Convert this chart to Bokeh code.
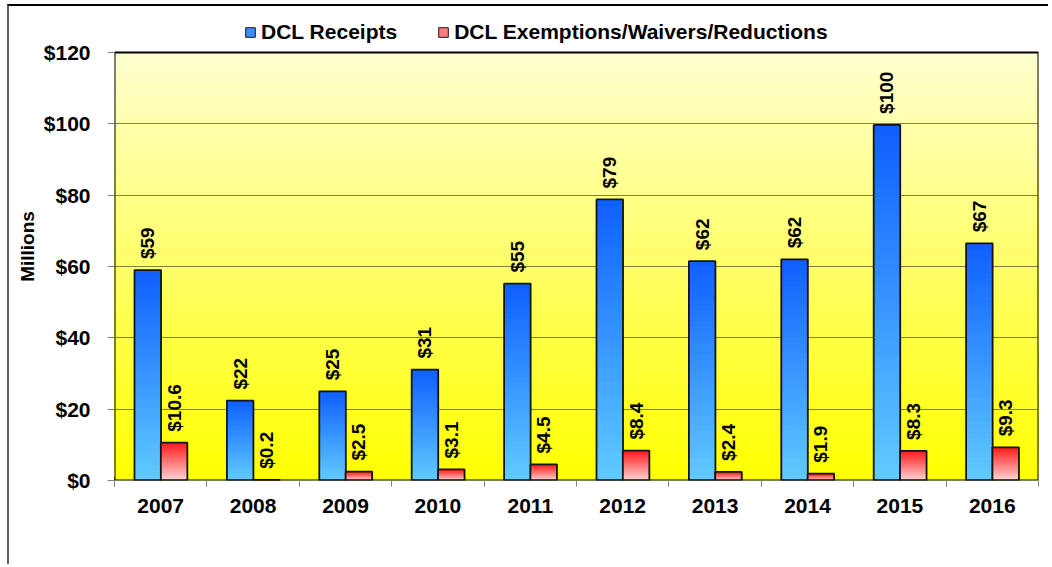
import numpy as np
from bokeh.plotting import figure
from bokeh.models import Range1d, FixedTicker, NumeralTickFormatter, Legend, LegendItem
from bokeh.core.properties import value
from bokeh.embed import file_html
from bokeh.resources import INLINE

# ---------------- data ----------------
years = ["2007", "2008", "2009", "2010", "2011", "2012", "2013", "2014", "2015", "2016"]
receipts = [59.0, 22.4, 25.0, 31.1, 55.2, 78.8, 61.5, 62.0, 99.7, 66.5]
exemptions = [10.6, 0.2, 2.5, 3.1, 4.5, 8.4, 2.4, 1.9, 8.3, 9.3]
receipt_labels = ["$59", "$22", "$25", "$31", "$55", "$79", "$62", "$62", "$100", "$67"]
exemption_labels = ["$10.6", "$0.2", "$2.5", "$3.1", "$4.5", "$8.4", "$2.4", "$1.9", "$8.3", "$9.3"]
y_ticks = [0, 20, 40, 60, 80, 100, 120]
series_names = ["DCL Receipts", "DCL Exemptions/Waivers/Reductions"]

FONT = value("Liberation Sans")
N_STRIPS = 40
BAR_W = 0.287

# layout (pixels)
PLOT_H = 428            # height of the value area (0..120)
HEADROOM = 40           # white area above the value area holding the legend
FRAME_H = PLOT_H + HEADROOM


def hex2rgb(h):
    h = h.lstrip("#")
    return tuple(int(h[i:i + 2], 16) for i in (0, 2, 4))


def mix(c0, c1, t):
    a, b = hex2rgb(c0), hex2rgb(c1)
    return "#%02x%02x%02x" % tuple(int(round(a[k] + (b[k] - a[k]) * t)) for k in range(3))


n = len(years)
ymax = y_ticks[-1]

p = figure(x_range=Range1d(0, n), y_range=Range1d(0, ymax * FRAME_H / PLOT_H),
           frame_width=924, frame_height=FRAME_H,
           min_border_left=105, min_border_right=10,
           min_border_top=6, min_border_bottom=84,
           output_backend="svg", toolbar_location=None,
           border_fill_color="white", background_fill_color="white")
p.styles = {"margin-left": "7px", "margin-top": "4px",
            "border-left": "2px solid #606060", "border-top": "2px solid black"}
p.outline_line_color = None

# background gradient (pale yellow at top -> yellow at bottom)
bg_b, bg_c = [], []
for i in range(100):
    bg_b.append(ymax * i / 100)
    bg_c.append(mix("#ffff00", "#ffffd0", i / 99))
p.quad(left=0, right=n, bottom=bg_b, top=ymax, fill_color=bg_c,
       line_color=None, level="image")


def gradient_bar(vals, offset, c_bottom, c_top):
    xs, bots, tops, cols = [], [], [], []
    for i, v in enumerate(vals):
        for k in range(N_STRIPS):
            xs.append(i + 0.5 + offset)
            bots.append(v * k / N_STRIPS)
            tops.append(v)
            cols.append(mix(c_bottom, c_top, k / (N_STRIPS - 1)))
    p.vbar(x=xs, bottom=bots, top=tops, width=BAR_W, fill_color=cols, line_color=None)
    centers = [i + 0.5 + offset for i in range(len(vals))]
    p.vbar(x=centers, bottom=0, top=vals, width=BAR_W, fill_color=None,
           line_color="#141414", line_width=1.8)
    return centers


bx = gradient_bar(receipts, -0.14, "#60caff", "#1060ff")
rx = gradient_bar(exemptions, 0.145, "#ffd2d2", "#ff1c1c")

for xs, vals, labs in ((bx, receipts, receipt_labels), (rx, exemptions, exemption_labels)):
    p.text(x=xs, y=vals, text=labs, angle=np.pi / 2, text_align="left",
           text_baseline="middle", y_offset=-11, text_font=FONT,
           text_font_style="bold", text_font_size="19px", text_color="black")

# plot-area border (value area only)
p.quad(left=0, right=n, bottom=0, top=ymax, fill_color=None,
       line_color="black", line_width=2)

# axes
p.yaxis.ticker = FixedTicker(ticks=y_ticks)
p.yaxis.formatter = NumeralTickFormatter(format="$0")
p.yaxis.axis_line_color = None
p.yaxis.major_tick_out = 7
p.yaxis.major_tick_in = 0
p.yaxis.major_tick_line_color = "#808080"
p.yaxis.minor_tick_line_color = None
p.yaxis.major_label_standoff = 17
p.yaxis.axis_label = "Millions"
p.yaxis.axis_label_standoff = 3
p.yaxis.axis_label_text_font = "Liberation Sans"
p.yaxis.axis_label_text_font_size = "19px"
p.yaxis.axis_label_text_font_style = "bold"
p.yaxis.axis_label_text_color = "black"

p.xaxis.ticker = FixedTicker(ticks=[i + 0.5 for i in range(n)],
                             minor_ticks=list(range(n + 1)))
p.xaxis.major_label_overrides = {i + 0.5: y for i, y in enumerate(years)}
p.xaxis.axis_line_color = None
p.xaxis.major_tick_line_color = None
p.xaxis.major_tick_out = 0
p.xaxis.major_tick_in = 0
p.xaxis.minor_tick_line_color = "#808080"
p.xaxis.minor_tick_out = 6
p.xaxis.minor_tick_in = 0
p.xaxis.major_label_standoff = 12

for ax in (p.xaxis, p.yaxis):
    ax.major_label_text_font = "Liberation Sans"
    ax.major_label_text_font_size = "21px"
    ax.major_label_text_font_style = "bold"
    ax.major_label_text_color = "black"

p.xgrid.visible = False
p.ygrid.ticker = FixedTicker(ticks=y_ticks[1:-1])
p.ygrid.grid_line_color = "black"
p.ygrid.grid_line_dash = "1 1"
p.ygrid.grid_line_width = 1
p.ygrid.grid_line_alpha = 1.0

# legend (inside the white headroom of the frame); swatch renderers sit off-range
r1 = p.vbar(x=[-5], bottom=[0], top=[1], width=0.1, fill_color="#3a8eff",
            line_color="#1a1a1a", line_width=1)
r2 = p.vbar(x=[-5], bottom=[0], top=[1], width=0.1, fill_color="#ff7a7a",
            line_color="#1a1a1a", line_width=1)
legend = Legend(items=[LegendItem(label=series_names[0], renderers=[r1]),
                       LegendItem(label=series_names[1], renderers=[r2])],
                orientation="horizontal", location=(130, PLOT_H + 8),
                border_line_color=None, background_fill_alpha=0,
                padding=0, margin=0, spacing=40, glyph_width=12, glyph_height=12,
                label_standoff=5, label_text_font="Liberation Sans",
                label_text_font_size="21px", label_text_font_style="bold",
                label_text_color="black")
p.add_layout(legend)

open("out.html", "w").write(file_html(p, INLINE))
